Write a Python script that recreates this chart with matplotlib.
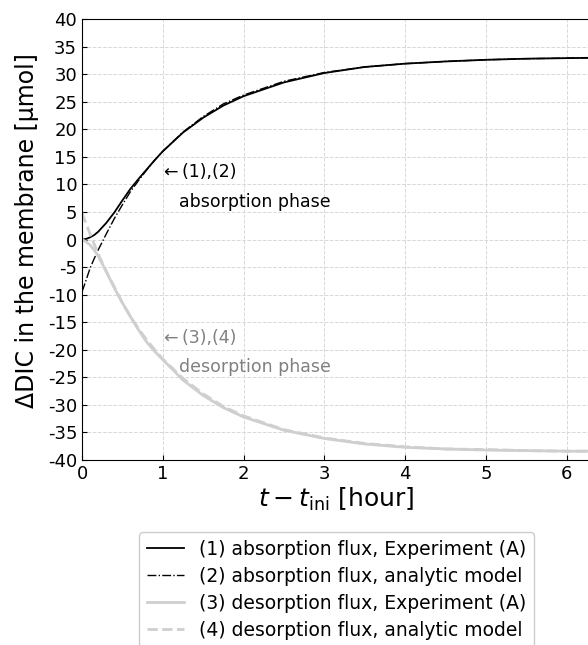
import matplotlib
matplotlib.use('Agg')
import matplotlib.pyplot as plt

# time since start [hour]
t_hour = [0, 0.05, 0.1, 0.15, 0.2, 0.3, 0.4, 0.5, 0.6, 0.7, 0.8, 0.9, 1.0,
          1.25, 1.5, 1.75, 2.0, 2.5, 3.0, 3.5, 4.0, 4.5, 5.0, 5.5, 6.0, 6.5]

# (1) absorption, experiment (A)
abs_exp = [0, 0.1, 0.4, 0.8, 1.4, 3.0, 4.9, 7.1, 9.2, 11.0, 12.7, 14.4, 16.0,
           19.4, 22.1, 24.3, 26.0, 28.5, 30.2, 31.3, 31.9, 32.3, 32.6, 32.8, 32.9, 33.0]
# (2) absorption, analytic model
abs_model = [-9.5, -7.4, -5.2, -3.5, -1.9, 1.0, 3.8, 6.3, 8.7, 10.7, 12.6, 14.4, 16.0,
             19.5, 22.3, 24.6, 26.2, 28.7, 30.3, 31.3, 31.9, 32.3, 32.6, 32.8, 32.9, 33.0]
# (3) desorption, experiment (A)
des_exp = [0, -0.4, -1.0, -1.9, -3.0, -5.8, -8.8, -11.5, -14.0, -16.4, -18.6, -20.3, -21.8,
           -25.5, -28.3, -30.5, -32.2, -34.6, -36.1, -37.1, -37.7, -38.0, -38.2, -38.3, -38.4, -38.4]
# (4) desorption, analytic model
des_model = [4.8, 2.9, 1.0, -0.8, -2.6, -5.8, -8.6, -11.5, -14.0, -16.2, -18.2, -20.0, -21.7,
             -25.2, -28.0, -30.3, -32.0, -34.5, -36.0, -37.0, -37.6, -38.0, -38.1, -38.3, -38.4, -38.4]

y_ticks = list(range(-40, 41, 5))
x_ticks = [0, 1, 2, 3, 4, 5, 6]

fig = plt.figure(figsize=(5.88, 6.45), dpi=100)
ax = fig.add_axes([82 / 588, 1 - 460 / 645, 6.3 * 80.8 / 588, 441 / 645])

light = '#cfcfcf'
ax.plot(t_hour, abs_exp, color='black', linewidth=1.3, label='(1) absorption flux, Experiment (A)')
ax.plot(t_hour, abs_model, color='black', linewidth=1.0, linestyle='-.',
        label='(2) absorption flux, analytic model')
ax.plot(t_hour, des_exp, color=light, linewidth=2.0, label='(3) desorption flux, Experiment (A)')
ax.plot(t_hour, des_model, color=light, linewidth=2.0, linestyle='--',
        label='(4) desorption flux, analytic model')

# phase annotations
ax.text(1.02, 12.3, '\u2190\u2009(1),(2)', fontsize=12.5, color='black', va='center')
ax.text(1.2, 6.8, 'absorption phase', fontsize=12.5, color='black', va='center')
ax.text(1.02, -17.8, '\u2190\u2009(3),(4)', fontsize=12.5, color='gray', va='center')
ax.text(1.2, -23.2, 'desorption phase', fontsize=12.5, color='gray', va='center')

ax.set_xlim(0, 6.3)
ax.set_ylim(-40, 40)
ax.set_xticks(x_ticks)
ax.set_yticks(y_ticks)
ax.set_yticklabels([str(v) for v in y_ticks])
ax.tick_params(direction='in', labelsize=13)
ax.grid(True, linestyle='--', color='#d8d8d8', linewidth=0.7)
ax.set_xlabel(r'$t - t_{\rm ini}$ [hour]', fontsize=18, labelpad=2)
ax.set_ylabel('\u0394DIC in the membrane [\u03bcmol]', fontsize=17)
ax.yaxis.set_label_coords(-0.085, 0.52)

fig.legend(loc='upper center', bbox_to_anchor=(336.5 / 588, 1 - 523 / 645),
           fontsize=13.5, labelspacing=0.42, framealpha=1.0, edgecolor='#cccccc')

fig.savefig('out.png', dpi=100, facecolor='white')
